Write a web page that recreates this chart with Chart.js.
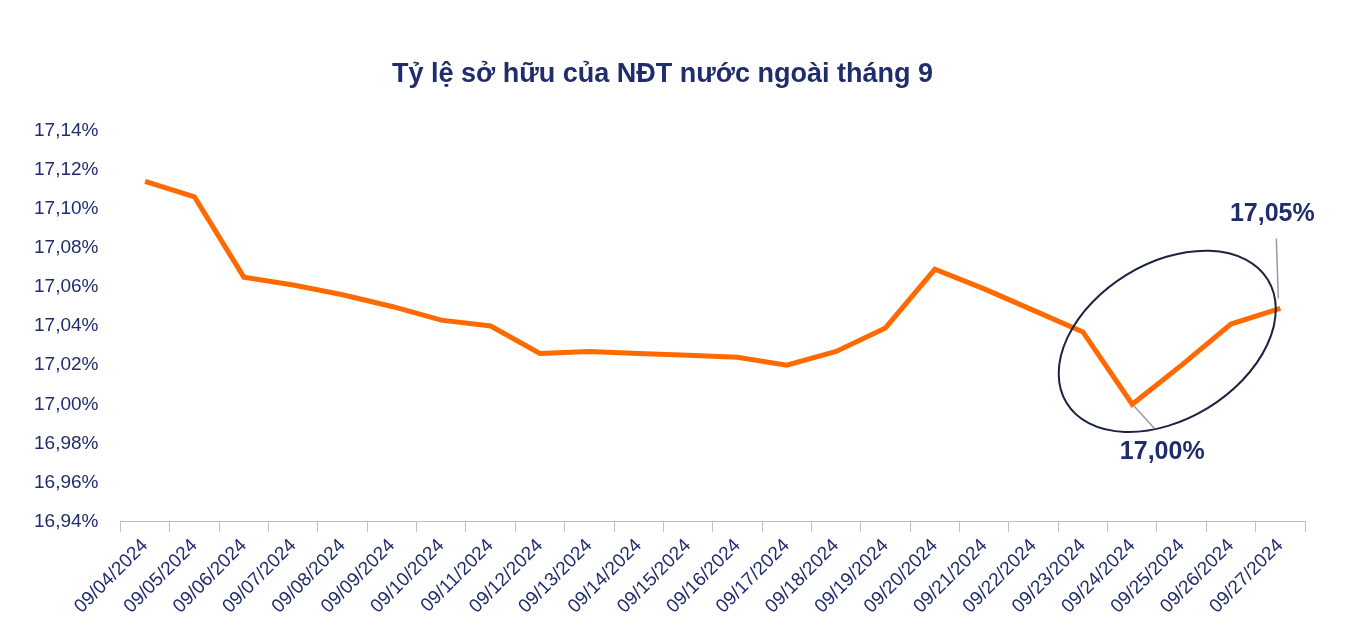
<!DOCTYPE html>
<html>
<head>
<meta charset="utf-8">
<script src="https://cdn.jsdelivr.net/npm/chart.js@4"></script>
<style>
  html, body { margin: 0; background: #fff; }
  #wrap { width: 1350px; height: 629px; }
</style>
</head>
<body>
<div id="wrap"><canvas id="c"></canvas></div>
<script>
// data
const dates = ['09/04/2024','09/05/2024','09/06/2024','09/07/2024','09/08/2024','09/09/2024',
  '09/10/2024','09/11/2024','09/12/2024','09/13/2024','09/14/2024','09/15/2024','09/16/2024',
  '09/17/2024','09/18/2024','09/19/2024','09/20/2024','09/21/2024','09/22/2024','09/23/2024',
  '09/24/2024','09/25/2024','09/26/2024','09/27/2024'];
const ownership = [17.114, 17.106, 17.065, 17.061, 17.056, 17.050, 17.043, 17.040, 17.026, 17.027,
  17.026, 17.025, 17.024, 17.020, 17.027, 17.039, 17.069, 17.059, 17.048, 17.037,
  17.000, 17.020, 17.041, 17.049];
const yMin = 16.94, yMax = 17.14, yStep = 0.02;

const navy = '#1f2d6b';
const font = 'Liberation Sans, Arial, sans-serif';

const fmt = v => v.toFixed(2).replace('.', ',') + '%';

// ellipse + callouts around the last few days
const callouts = {
  id: 'callouts',
  afterDatasetsDraw(chart) {
    const { ctx } = chart;
    const meta = chart.getDatasetMeta(0).data;
    const low = meta[20], last = meta[23];
    ctx.save();
    ctx.strokeStyle = '#1a2340';
    ctx.lineWidth = 2;
    ctx.beginPath();
    ctx.ellipse(low.x + 35, (low.y + last.y) / 2 - 15, 118, 78, -0.55, 0, Math.PI * 2);
    ctx.stroke();
    ctx.strokeStyle = '#9a9a9a';
    ctx.lineWidth = 1.5;
    ctx.beginPath();
    ctx.moveTo(low.x + 2, low.y + 2); ctx.lineTo(low.x + 22, low.y + 24);
    ctx.moveTo(last.x - 2, last.y - 10); ctx.lineTo(last.x - 4, last.y - 70);
    ctx.stroke();
    ctx.fillStyle = navy;
    ctx.font = 'bold 25px ' + font;
    ctx.textAlign = 'center';
    ctx.textBaseline = 'middle';
    ctx.fillText(fmt(ownership[20]), low.x + 30, low.y + 48);
    ctx.fillText(fmt(ownership[23]), last.x - 8, last.y - 94);
    ctx.restore();
  }
};

new Chart(document.getElementById('c'), {
  type: 'line',
  data: {
    labels: dates,
    datasets: [{
      data: ownership,
      borderColor: '#ff6a00',
      borderWidth: 5,
      pointRadius: 0,
      tension: 0,
      fill: false
    }]
  },
  options: {
    responsive: true,
    maintainAspectRatio: false,
    animation: false,
    layout: { padding: { left: 20, right: 45, top: 10, bottom: 8 } },
    plugins: {
      legend: { display: false },
      tooltip: { enabled: false },
      title: {
        display: true,
        text: 'Tỷ lệ sở hữu của NĐT nước ngoài tháng 9',
        color: navy,
        font: { family: font, size: 27, weight: 'bold' },
        padding: { top: 48, bottom: 40 }
      }
    },
    scales: {
      x: {
        offset: true,
        grid: { display: true, drawOnChartArea: false, color: '#bfbfbf', tickLength: 10, offset: true },
        border: { color: '#bfbfbf' },
        ticks: { color: navy, font: { family: font, size: 19 }, maxRotation: 45, minRotation: 45, autoSkip: false }
      },
      y: {
        min: yMin, max: yMax,
        grid: { display: false },
        border: { display: false },
        ticks: { stepSize: yStep, color: navy, font: { family: font, size: 19 }, padding: 14,
          callback: v => fmt(v) }
      }
    }
  },
  plugins: [callouts]
});
</script>
</body>
</html>
